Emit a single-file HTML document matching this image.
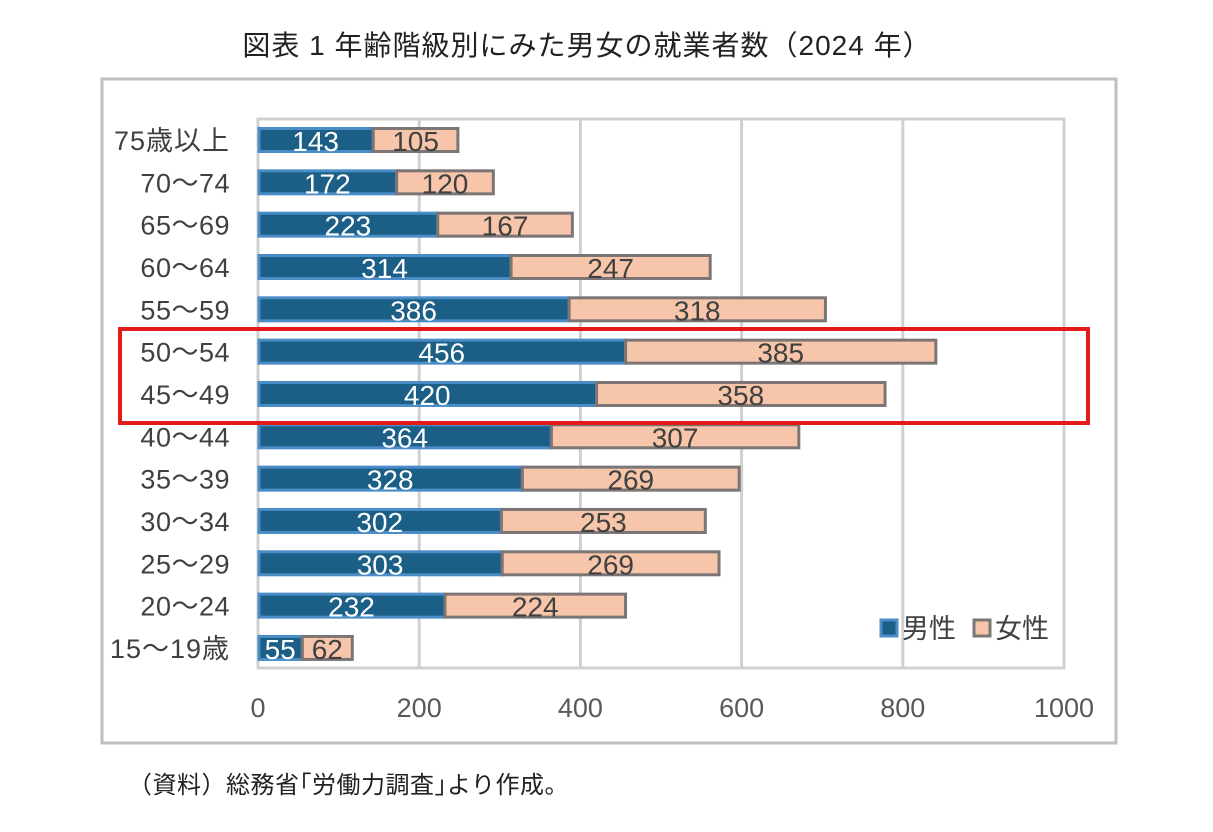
<!DOCTYPE html>
<html><head><meta charset="utf-8"><style>
body{margin:0;background:#fff;width:1213px;height:827px;overflow:hidden}
svg text{font-family:"Liberation Sans","Noto Sans CJK JP",sans-serif}
</style></head><body>
<svg id="s" width="1213" height="827" xmlns="http://www.w3.org/2000/svg">
<text x="587" y="55" font-size="28" letter-spacing="1" text-anchor="middle" fill="#222">図表 1  年齢階級別にみた男女の就業者数（2024 年）</text>
<rect x="102" y="79" width="1014" height="664" fill="none" stroke="#bfbfbf" stroke-width="3"/>
<g id="g" stroke="#d0d0d0" stroke-width="3"></g>
<text x="128" y="793" font-size="24" letter-spacing="0.5" fill="#222">（資料）総務省｢労働力調査｣より作成。</text>
</svg>
<script>
(function(){
const s=document.getElementById('s'),g=document.getElementById('g'),ns='http://www.w3.org/2000/svg';
function el(t,a,p,txt){const e=document.createElementNS(ns,t);for(const q in a)e.setAttribute(q,a[q]);if(txt!==undefined)e.textContent=txt;(p||s).appendChild(e);return e;}
const x0=258,kk=0.806,pt=119,pb=668;
el('rect',{x:x0,y:pt,width:806,height:pb-pt,fill:'none'},g);
for(let v=200;v<=1000;v+=200){el('line',{x1:x0+v*kk,y1:pt,x2:x0+v*kk,y2:pb},g);}
for(let v=0;v<=1000;v+=200)el('text',{x:x0+v*kk,y:717,'font-size':27,'text-anchor':'middle',fill:'#595959'},null,String(v));
const cats=['75歳以上','70～74','65～69','60～64','55～59','50～54','45～49','40～44','35～39','30～34','25～29','20～24','15～19歳'];
const d=[[143,105],[172,120],[223,167],[314,247],[386,318],[456,385],[420,358],[364,307],[328,269],[302,253],[303,269],[232,224],[55,62]];
d.forEach((r,i)=>{const cy=140+i*42.33,h=23,y=cy-h/2;
const wm=r[0]*kk,wf=r[1]*kk;
el('rect',{x:x0+1,y:y,width:wm-1,height:h,fill:'#1b5e86',stroke:'#4a8cc6','stroke-width':3});
el('rect',{x:x0+wm,y:y,width:wf,height:h,fill:'#f7c6aa',stroke:'#7b7575','stroke-width':3});
el('text',{x:x0+wm/2,y:cy+11,'font-size':28,'text-anchor':'middle',fill:'#fff'},null,String(r[0]));
el('text',{x:x0+wm+wf/2,y:cy+11,'font-size':28,'text-anchor':'middle',fill:'#404040'},null,String(r[1]));
el('text',{x:230,y:cy+10,'font-size':27,'letter-spacing':(i==0||i==12)?1:0.5,'text-anchor':'end',fill:'#404040'},null,cats[i]);
});
el('rect',{x:120,y:329,width:968,height:94,fill:'none',stroke:'#e31a1a','stroke-width':4});
el('rect',{x:881,y:620,width:16,height:16,fill:'#1b5e86',stroke:'#4a8cc6','stroke-width':3});
el('text',{x:902,y:638,'font-size':27,fill:'#404040'},null,'男性');
el('rect',{x:974,y:620,width:16,height:16,fill:'#f7c6aa',stroke:'#7b7575','stroke-width':3});
el('text',{x:995,y:638,'font-size':27,fill:'#404040'},null,'女性');
})();
</script>
</body></html>
